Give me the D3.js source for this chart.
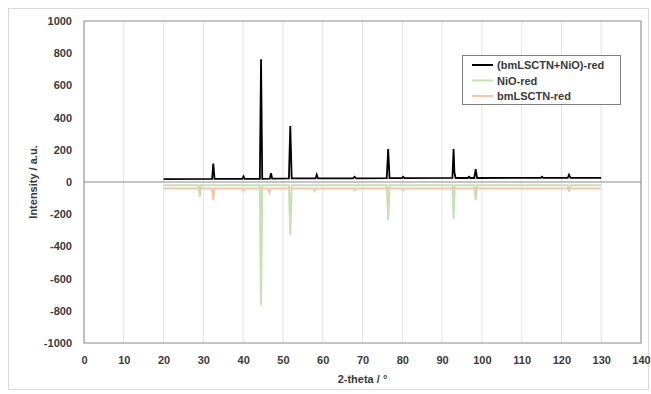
<!DOCTYPE html>
<html>
<head>
<meta charset="utf-8">
<script src="https://cdn.jsdelivr.net/npm/d3@7"></script>
<style>
  body { margin: 0; background: #fff; }
  svg text { font-family: "Liberation Sans", Arial, sans-serif; font-size: 11px; font-weight: 600; fill: #3a3a3a; }
</style>
</head>
<body>
<svg id="chart" width="651" height="394"></svg>
<script>
// XRD patterns, 2-theta vs intensity (reduced samples are plotted negative)
var seriesNames = ["(bmLSCTN+NiO)-red", "NiO-red", "bmLSCTN-red"];
var seriesColors = ["#000000", "#c6e0b4", "#f4c7a8"];

var compositeRed = [
    [20, 18], [32.2, 20], [32.5, 115], [32.8, 20], [39.8, 20], [40.1, 35], [40.4, 20],
    [44.2, 20], [44.5, 762], [44.8, 20], [46.7, 21], [47, 55], [47.3, 21],
    [51.5, 22], [51.85, 348], [52.2, 22], [58.2, 22], [58.5, 45], [58.8, 22],
    [67.6, 23], [68, 33], [68.4, 23], [76.1, 24], [76.45, 205], [76.8, 24],
    [79.9, 24], [80.2, 32], [80.5, 24], [92.6, 25], [92.9, 205], [93.1, 60], [93.4, 25],
    [96.5, 25], [96.8, 32], [97.1, 25], [98.1, 25], [98.45, 80], [98.8, 25],
    [114.8, 26], [115.1, 33], [115.4, 26], [121.6, 26], [121.9, 45], [122.3, 26], [130, 26]
];

var nioRed = [
    [20, -20], [28.8, -20], [29.1, -93], [29.4, -20], [44.2, -20], [44.5, -765], [44.8, -20],
    [51.5, -20], [51.85, -330], [52.2, -20], [76.1, -20], [76.45, -236], [76.8, -20],
    [92.6, -20], [92.9, -230], [93.2, -20], [98.1, -20], [98.45, -112], [98.8, -20],
    [121.6, -20], [121.9, -60], [122.3, -20], [130, -20]
];

var lsctnRed = [
    [20, -40], [32.2, -40], [32.5, -112], [32.8, -40], [39.8, -40], [40.1, -55], [40.4, -40],
    [46.3, -40], [46.6, -65], [46.9, -40], [57.7, -40], [58, -55], [58.3, -40],
    [67.7, -40], [68, -50], [68.3, -40], [80, -40], [80.3, -50], [80.6, -40],
    [130, -40]
];

var xTicks = d3.range(0, 141, 10);
var yTicks = d3.range(-1000, 1001, 200);

var svg = d3.select("#chart");
var plotLeft = 84, plotRight = 641, plotTop = 21, plotBottom = 343;

var x = d3.scaleLinear().domain([0, 140]).range([plotLeft, plotRight]);
var y = d3.scaleLinear().domain([-1000, 1000]).range([plotBottom, plotTop]);

// chart frame
svg.append("rect")
    .attr("x", 8.5).attr("y", 8.5).attr("width", 640).attr("height", 381)
    .attr("fill", "none").attr("stroke", "#d9d9d9");

// vertical gridlines
svg.append("g").selectAll("line")
    .data(xTicks)
    .enter().append("line")
    .attr("x1", d => x(d)).attr("x2", d => x(d))
    .attr("y1", plotTop).attr("y2", plotBottom)
    .attr("stroke", "#e3e3e3").attr("stroke-width", 1);

// plot area border
svg.append("rect")
    .attr("x", plotLeft).attr("y", plotTop).attr("width", plotRight - plotLeft).attr("height", plotBottom - plotTop)
    .attr("fill", "none").attr("stroke", "#8c8c8c").attr("stroke-width", 1);

// axes
var yAxis = d3.axisLeft(y).tickValues(yTicks).tickSize(0).tickPadding(12).tickFormat(d => d);
svg.append("g").attr("transform", "translate(" + plotLeft + ",0)").call(yAxis)
    .call(g => g.select(".domain").remove());

var xAxis = d3.axisBottom(x).tickValues(xTicks).tickSize(0).tickPadding(13).tickFormat(d => d);
svg.append("g").attr("transform", "translate(0," + plotBottom + ")").call(xAxis)
    .call(g => g.select(".domain").remove());

svg.selectAll(".tick text").attr("font-family", null).attr("font-size", null).attr("fill", null);

// zero line
svg.append("line")
    .attr("x1", plotLeft).attr("x2", plotRight).attr("y1", y(0)).attr("y2", y(0))
    .attr("stroke", "#8c8c8c").attr("stroke-width", 1);

var line = d3.line().x(d => x(d[0])).y(d => y(d[1]));

var allSeries = [compositeRed, nioRed, lsctnRed];
allSeries.forEach(function(data, i) {
    svg.append("path")
        .datum(data)
        .attr("d", line)
        .attr("fill", "none")
        .attr("stroke", seriesColors[i])
        .attr("stroke-width", i === 0 ? 1.8 : 2);
});

// axis titles
svg.append("text")
    .attr("x", x(70)).attr("y", 383)
    .attr("text-anchor", "middle")
    .text("2-theta / °");

svg.append("text")
    .attr("transform", "translate(37," + y(0) + ") rotate(-90)")
    .attr("text-anchor", "middle")
    .text("Intensity / a.u.");

// legend
var legend = svg.append("g").attr("transform", "translate(462,55)");
legend.append("rect")
    .attr("x", 0.5).attr("y", 0.5).attr("width", 158).attr("height", 49)
    .attr("fill", "#fff").attr("stroke", "#7f7f7f");

seriesNames.forEach(function(name, i) {
    var ly = 10 + i * 15.5;
    legend.append("line")
        .attr("x1", 10).attr("x2", 31).attr("y1", ly).attr("y2", ly)
        .attr("stroke", seriesColors[i]).attr("stroke-width", 2);
    legend.append("text")
        .attr("x", 35).attr("y", ly + 4)
        .text(name);
});
</script>
</body>
</html>
